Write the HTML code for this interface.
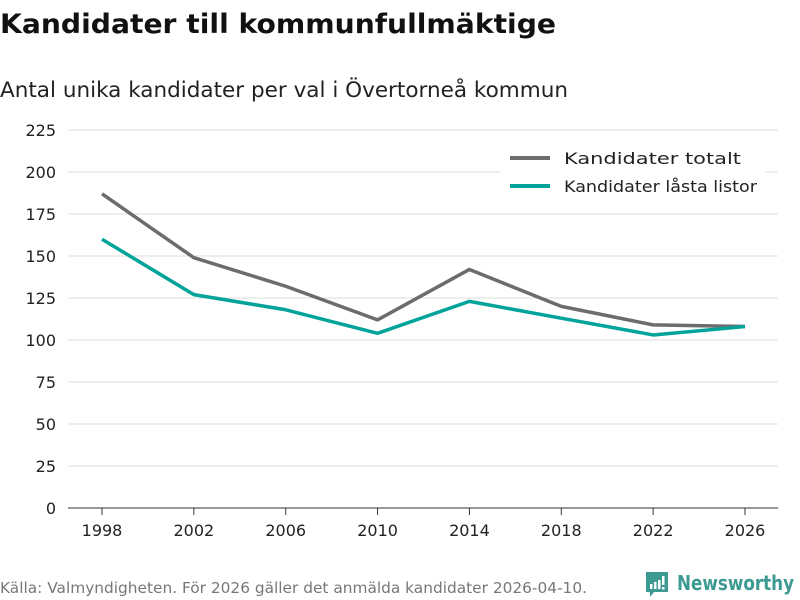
<!DOCTYPE html>
<html><head><meta charset="utf-8"><style>
body{margin:0;background:#fff;font-family:"DejaVu Sans","Liberation Sans",sans-serif;}
#wrap{position:relative;width:800px;height:600px;overflow:hidden;}
</style></head><body>
<div id="wrap">
<svg id="svg" width="800" height="600" xmlns="http://www.w3.org/2000/svg">
<text x="0" y="33" font-size="27" font-weight="bold" fill="#111" textLength="556" lengthAdjust="spacingAndGlyphs">Kandidater till kommunfullmäktige</text>
<text x="0" y="97" font-size="21" fill="#222" textLength="568" lengthAdjust="spacingAndGlyphs">Antal unika kandidater per val i Övertorneå kommun</text>
<g id="grid"></g><g id="lines"></g>
<g>
<rect x="500" y="145" width="265" height="58" fill="#fff"/>
<line x1="510" y1="158" x2="550" y2="158" stroke="#6c6b70" stroke-width="4"/>
<text x="564" y="164" font-size="16" fill="#222" textLength="177" lengthAdjust="spacingAndGlyphs">Kandidater totalt</text>
<line x1="510" y1="186" x2="550" y2="186" stroke="#00a39a" stroke-width="4"/>
<text x="564" y="192" font-size="16" fill="#222" textLength="193" lengthAdjust="spacingAndGlyphs">Kandidater låsta listor</text>
</g>
<text x="0" y="593" font-size="15" fill="#777" textLength="587" lengthAdjust="spacingAndGlyphs">Källa: Valmyndigheten. För 2026 gäller det anmälda kandidater 2026-04-10.</text>
<g>
<path d="M646 572 h22 v20 h-14 l-4 5 v-5 h-4 z" fill="#3d9a92"/>
<rect x="650" y="584" width="2.5" height="5" fill="#fff"/><rect x="654" y="582" width="2.5" height="7" fill="#fff"/><rect x="658" y="580" width="2.5" height="9" fill="#fff"/><rect x="662" y="576" width="2.5" height="9" fill="#fff"/><rect x="662" y="587" width="2.5" height="2.5" fill="#fff"/>
<text x="677" y="590" font-size="20" font-weight="bold" fill="#3d9a92" textLength="117" lengthAdjust="spacingAndGlyphs">Newsworthy</text>
</g>
</svg>
<script>
const years=[1998,2002,2006,2010,2014,2018,2022,2026];
const totalt=[187,149,132,112,142,120,109,108];
const lasta=[160,127,118,104,123,113,103,108];
const yTicks=[0,25,50,75,100,125,150,175,200,225];
const NS="http://www.w3.org/2000/svg";
const x=v=>102+(v-1998)*(745-102)/28;
const y=v=>508-v*(508-130)/225;
const grid=document.getElementById('grid'),lines=document.getElementById('lines');
function mk(t,a,p){const e=document.createElementNS(NS,t);for(const k in a)e.setAttribute(k,a[k]);p.appendChild(e);return e;}
yTicks.forEach(t=>{
 const l=mk('line',{x1:68,x2:778,y1:y(t),y2:y(t),stroke:t===0?'#333':'#ddd','stroke-width':1},grid);
 
 
 const tx=mk('text',{x:56,y:y(t)+6,'text-anchor':'end','font-size':16,fill:'#222'},grid);tx.textContent=t;
 
 
});
years.forEach(yr=>{
 const l=mk('line',{x1:x(yr),x2:x(yr),y1:508,y2:515,stroke:'#333'},grid);
 
 
 const tx=mk('text',{x:x(yr),y:536,'text-anchor':'middle','font-size':16,fill:'#222'},grid);tx.textContent=yr;
 
 
});
[[totalt,'#6c6b70','line-totalt'],[lasta,'#00a39a','line-lasta']].forEach(([d,c,n])=>{
 const p=mk('polyline',{points:d.map((v,i)=>x(years[i])+','+y(v)).join(' '),fill:'none',stroke:c,'stroke-width':3.5,'stroke-linejoin':'round'},lines);
 
 
});
</script>
</div>
</body></html>
